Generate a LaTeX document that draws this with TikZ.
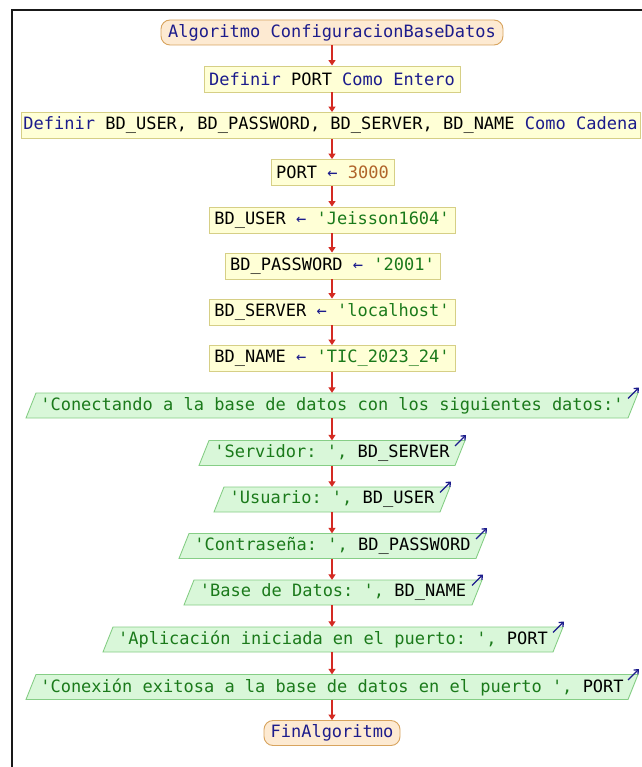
\documentclass[tikz,border=0pt]{standalone}
\usepackage{fontspec}
\setmonofont{DejaVu Sans Mono}
\usetikzlibrary{arrows.meta}

\definecolor{kwblue}{HTML}{1C1C8C}
\definecolor{strgreen}{HTML}{1B7A1B}
\definecolor{numbrown}{HTML}{B0642A}
\definecolor{flowred}{HTML}{D42A22}
\definecolor{procfill}{HTML}{FFFFD6}
\definecolor{procline}{HTML}{D6CF86}
\definecolor{iofill}{HTML}{D9F7D9}
\definecolor{ioline}{HTML}{86CE86}
\definecolor{termfill}{HTML}{FDEAD2}
\definecolor{termline}{HTML}{D8A45E}

\newcommand\kwd[1]{\textcolor{kwblue}{#1}}
\newcommand\strg[1]{\textcolor{strgreen}{#1}}
\newcommand\numb[1]{\textcolor{numbrown}{#1}}
\newcommand\asg{\kwd{←}}

% output block: name, centre x, centre y, half width, content
\newcommand\salida[5]{%
  \draw[ioshape] ({#2-#4-5},{#3+12.5}) -- ({#2+#4-5},{#3+12.5})
    -- ({#2+#4+5},{#3-12.5}) -- ({#2-#4+5},{#3-12.5}) -- cycle;
  \node[iotext, minimum width={2*#4}] (#1) at (#2,#3) {#5};
  \draw[outmark] ({#2+#4-5},{#3-7}) -- ++(11,-11);
}

\begin{document}
\begin{tikzpicture}[x=1pt,y=-1pt,
  every node/.style={font=\ttfamily\fontsize{17}{20}\selectfont, inner sep=0pt},
  proc/.style={draw=procline, fill=procfill, line width=0.9pt, minimum height=26pt},
  term/.style={draw=termline, fill=termfill, line width=0.9pt, minimum height=25pt,
               rounded corners=9pt, text=kwblue},
  ioshape/.style={draw=ioline, fill=iofill, line width=0.9pt},
  iotext/.style={minimum height=25pt, text=strgreen},
  outmark/.style={draw=kwblue, line width=1.3pt, -{Straight Barb[length=3.5pt,width=6pt]}},
  flow/.style={draw=flowred, line width=1.3pt, -{Triangle[length=5.5pt,width=7pt]}}]

\useasboundingbox (0,0) rectangle (641,767);
\fill[white] (0,0) rectangle (641,767);

% frame of the diagram area
\draw[line width=2pt, black!90] (12,768) -- (12,10) -- (642,10);

% vertical axis of the flow
\coordinate (eje) at (332,0);

% terminal and process blocks
\node[term, minimum width=342pt] (ini) at (332,32.5) {Algoritmo ConfiguracionBaseDatos};
\node[proc, minimum width=256pt] (d1) at (332,79) {\kwd{Definir} PORT \kwd{Como Entero}};
\node[proc, minimum width=619pt] (d2) at (330.5,125.5)
  {\kwd{Definir} BD\_USER, BD\_PASSWORD, BD\_SERVER, BD\_NAME \kwd{Como Cadena}};
\node[proc, minimum width=123pt] (a1) at (332.5,172.5) {PORT \asg{} \numb{3000}};
\node[proc, minimum width=246pt] (a2) at (332,220) {BD\_USER \asg{} \strg{'Jeisson1604'}};
\node[proc, minimum width=215pt] (a3) at (332.5,266) {BD\_PASSWORD \asg{} \strg{'2001'}};
\node[proc, minimum width=246pt] (a4) at (332,312) {BD\_SERVER \asg{} \strg{'localhost'}};
\node[proc, minimum width=246pt] (a5) at (332,358.5) {BD\_NAME \asg{} \strg{'TIC\_2023\_24'}};

% output blocks
\salida{e1}{332}{405.5}{301}{'Conectando a la base de datos con los siguientes datos:'}
\salida{e2}{332}{453}{128}{'Servidor: ', \textcolor{black}{BD\_SERVER}}
\salida{e3}{332}{499.5}{113}{'Usuario: ', \textcolor{black}{BD\_USER}}
\salida{e4}{332.5}{546}{148.5}{'Contraseña: ', \textcolor{black}{BD\_PASSWORD}}
\salida{e5}{333}{592.5}{144}{'Base de Datos: ', \textcolor{black}{BD\_NAME}}
\salida{e6}{333}{639.5}{225}{'Aplicación iniciada en el puerto: ', \textcolor{black}{PORT}}
\salida{e7}{332}{687}{301}{'Conexión exitosa a la base de datos en el puerto ', \textcolor{black}{PORT}}

\node[term, minimum width=136pt] (fin) at (332,733) {FinAlgoritmo};

% control flow, all along the same vertical axis
\foreach \src/\dst in {ini/d1, d1/d2, d2/a1, a1/a2, a2/a3, a3/a4, a4/a5, a5/e1,
                       e1/e2, e2/e3, e3/e4, e4/e5, e5/e6, e6/e7, e7/fin}
  \draw[flow] (\src.south -| eje) -- (\dst.north -| eje);
\end{tikzpicture}
\end{document}
